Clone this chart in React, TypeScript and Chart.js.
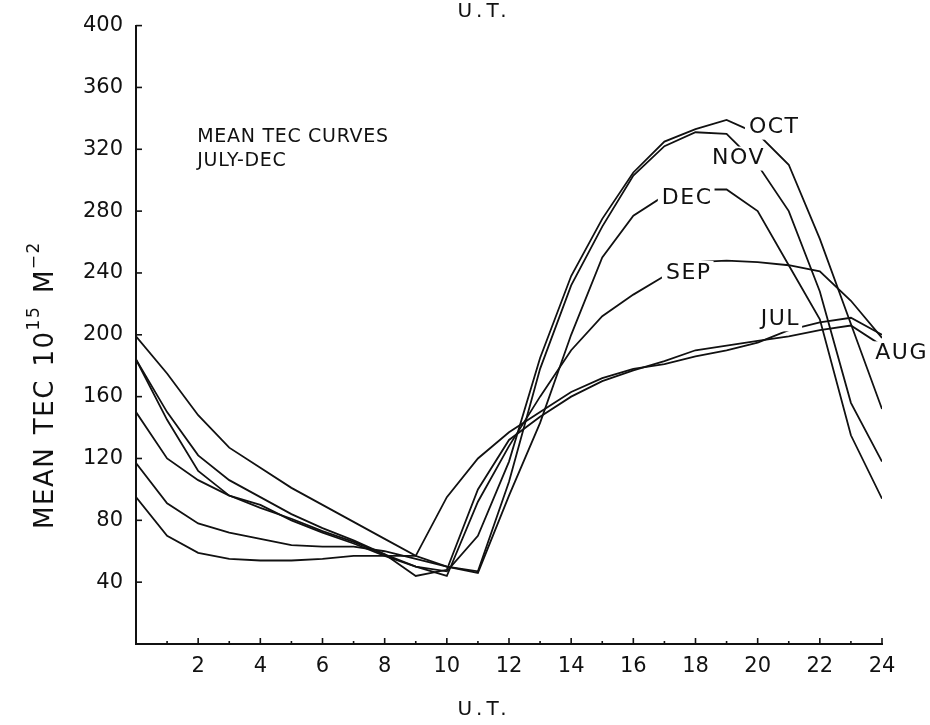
import React, { useEffect, useRef } from "react";
import { Chart, registerables } from "chart.js";

Chart.register(...registerables);

const hours = [0,1,2,3,4,5,6,7,8,9,10,11,12,13,14,15,16,17,18,19,20,21,22,23,24];
const jul = [199,175,148,127,114,101,90,79,68,57,95,120,137,150,163,172,178,181,186,190,195,203,208,211,200];
const aug = [184,150,122,106,95,84,75,67,58,44,48,100,132,147,160,170,177,183,190,193,196,199,203,206,193];
const sep = [150,120,106,96,90,80,72,65,57,50,44,92,128,160,190,212,226,238,247,248,247,245,241,222,198];
const oct = [184,145,112,96,88,81,73,66,58,50,47,70,118,185,238,275,305,325,333,339,330,310,262,207,152];
const nov = [117,91,78,72,68,64,63,63,60,55,50,47,105,178,232,270,303,322,331,330,310,280,228,156,118];
const dec = [95,70,59,55,54,54,55,57,57,57,50,46,96,143,200,250,277,290,294,294,280,245,210,135,94];

const xTickLabels = ["2","4","6","8","10","12","14","16","18","20","22","24"];
const yTickLabels = ["40","80","120","160","200","240","280","320","360","400"];

const monthLabels = [
  { text: "OCT", h: 20.5, v: 334 },
  { text: "NOV", h: 19.35, v: 314 },
  { text: "DEC", h: 17.7, v: 288 },
  { text: "SEP", h: 17.75, v: 240 },
  { text: "JUL", h: 20.7, v: 210 },
  { text: "AUG", h: 24.6, v: 188 },
];

const noteLines = ["MEAN TEC CURVES", "JULY-DEC"];
const yTitleWords = [
  [{ t: "MEAN", sup: false }],
  [{ t: "TEC", sup: false }],
  [{ t: "10", sup: false }, { t: "15", sup: true }],
  [{ t: "M", sup: false }, { t: "\u22122", sup: true }],
];
const FONT = "'DejaVu Sans', Lato, sans-serif";

const series = [jul, aug, sep, oct, nov, dec];

const decorPlugin = {
  id: "decor",
  afterDatasetsDraw(chart: any) {
    const ctx = chart.ctx;
    const xs = chart.scales.x;
    const ys = chart.scales.y;
    const area = chart.chartArea;
    ctx.save();
    ctx.strokeStyle = "#111";
    ctx.lineWidth = 1.6;
    for (let h = 1; h <= 24; h++) {
      const px = xs.getPixelForValue(h);
      const len = h % 2 === 0 ? 6 : 3;
      ctx.beginPath();
      ctx.moveTo(px, area.bottom);
      ctx.lineTo(px, area.bottom - len);
      ctx.stroke();
    }
    for (let v = 40; v <= 400; v += 40) {
      const py = ys.getPixelForValue(v);
      ctx.beginPath();
      ctx.moveTo(area.left, py);
      ctx.lineTo(area.left + 6, py);
      ctx.stroke();
    }
    // month labels with white background
    ctx.font = `22px ${FONT}`;
    ctx.letterSpacing = "1.5px";
    ctx.textAlign = "center";
    ctx.textBaseline = "middle";
    for (const m of monthLabels) {
      const px = xs.getPixelForValue(m.h);
      const py = ys.getPixelForValue(m.v);
      const w = ctx.measureText(m.text).width;
      ctx.fillStyle = "#fff";
      ctx.fillRect(px - w / 2 - 3, py - 12, w + 6, 24);
      ctx.fillStyle = "#111";
      ctx.fillText(m.text, px + 1, py);
    }
    // note
    ctx.letterSpacing = "0.7px";
    ctx.font = `19px ${FONT}`;
    ctx.textAlign = "left";
    const nx = xs.getPixelForValue(1.97);
    const ny = ys.getPixelForValue(328);
    noteLines.forEach((t, i) => ctx.fillText(t, nx, ny + i * 24));
    // top and bottom U.T.
    ctx.textAlign = "center";
    ctx.font = `20px ${FONT}`;
    ctx.letterSpacing = "4px";
    const cx = 484;
    ctx.fillText("U.T.", cx, 12);
    ctx.fillText("U.T.", cx, 710);
    // y title rotated
    const big = `26px ${FONT}`;
    const small = `17px ${FONT}`;
    ctx.letterSpacing = "1.5px";
    ctx.font = big;
    const gap = ctx.measureText(" ").width * 1.3;
    let wordsW = 0;
    for (const word of yTitleWords) {
      for (const p of word) { ctx.font = p.sup ? small : big; wordsW += ctx.measureText(p.t).width; }
    }
    const totalW = wordsW + gap * (yTitleWords.length - 1);
    ctx.translate(46, 385);
    ctx.rotate(-Math.PI / 2);
    let x0 = -totalW / 2;
    ctx.textAlign = "left";
    yTitleWords.forEach((word, wi) => {
      for (const p of word) {
        ctx.font = p.sup ? small : big;
        ctx.fillText(p.t, x0, p.sup ? -11 : 0);
        x0 += ctx.measureText(p.t).width;
      }
      if (wi < yTitleWords.length - 1) x0 += gap;
    });
    ctx.restore();
  },
};

export default function App() {
  const ref = useRef<HTMLCanvasElement | null>(null);
  useEffect(() => {
    document.body.style.margin = "0";
    const datasets = series.map((s) => ({
      data: hours.map((h, i) => ({ x: h, y: s[i] })),
      borderColor: "#111",
      borderWidth: 1.8,
      pointRadius: 0,
      tension: 0,
      fill: false,
    }));
    const chart = new Chart(ref.current as HTMLCanvasElement, {
      type: "line",
      data: { datasets },
      options: {
        animation: false,
        responsive: true,
        maintainAspectRatio: false,
        layout: { padding: { left: 0, right: 48, top: 22, bottom: 0 } },
        plugins: { legend: { display: false }, tooltip: { enabled: false } },
        scales: {
          x: {
            type: "linear",
            min: 0,
            max: 24,
            afterFit: (s: any) => { s.height = 81; },
            grid: { display: false, drawTicks: false },
            border: { display: true, color: "#111", width: 2 },
            ticks: {
              stepSize: 1,
              autoSkip: false,
              maxRotation: 0,
              padding: 10,
              color: "#111",
              font: { family: FONT, size: 21 },
              callback: (v: any) => (v > 0 && v % 2 === 0 ? xTickLabels[v / 2 - 1] : ""),
            },
          },
          y: {
            min: 0,
            max: 400,
            afterFit: (s: any) => { s.width = 136; },
            grid: { display: false, drawTicks: false },
            border: { display: true, color: "#111", width: 2 },
            ticks: {
              stepSize: 40,
              padding: 13,
              color: "#111",
              font: { family: FONT, size: 21 },
              callback: (v: any) => (v > 0 ? yTickLabels[v / 40 - 1] : ""),
            },
          },
        },
      },
      plugins: [decorPlugin],
    });
    return () => chart.destroy();
  }, []);
  return (
    <div style={{ width: 930, height: 725, position: "relative", background: "#fff" }}>
      <canvas ref={ref} />
    </div>
  );
}
